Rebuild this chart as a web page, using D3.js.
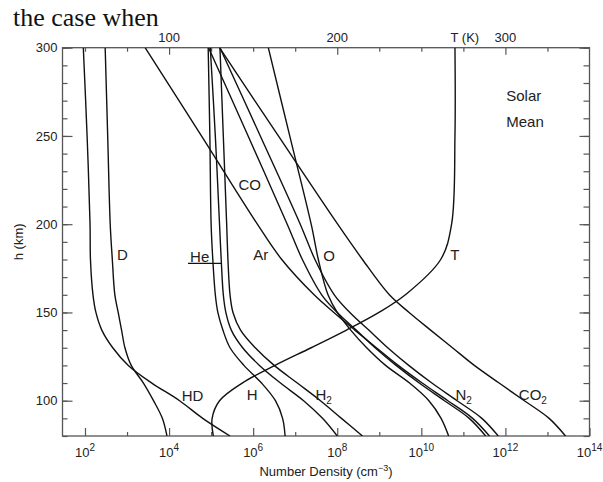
<!DOCTYPE html>
<html lang="en">
<head>
<meta charset="UTF-8">
<title>Mars thermosphere densities</title>
<style>
  body { margin: 0; background: #fff; }
  svg text { font-family: "Liberation Sans", Arial, sans-serif; fill: #222; }
  .ax line { stroke: #555; stroke-width: 1.2; }
  .ax path { display: none; }
</style>
</head>
<body>
<div id="chart"></div>
<script src="https://d3js.org/d3.v7.min.js"></script>
<script>
// altitudes (km) shared by every profile
var heights = [80, 90, 100, 110, 120, 130, 140, 150, 160, 180, 200, 250, 300];

// log10 number density (cm^-3) at each altitude
var co2 = [13.43, 13.04, 12.45, 11.85, 11.26, 10.74, 10.22, 9.71, 9.24, 8.6, 8.01, 6.6, 5.2];
var n2  = [11.83, 11.44, 10.85, 10.25, 9.7, 9.2, 8.75, 8.3, 7.93, 7.47, 7.12, 6.17, 5.21];
var co  = [11.53, 11.14, 10.55, 9.95, 9.4, 8.9, 8.45, 8.0, 7.63, 7.17, 6.81, 5.88, 4.94];
var ar  = [11.62, 11.22, 10.63, 10.02, 9.45, 8.93, 8.42, 7.92, 7.45, 6.68, 6.1, 4.77, 3.43];
var o   = [10.65, 10.47, 10.18, 9.72, 9.15, 8.7, 8.32, 8.0, 7.78, 7.55, 7.38, 6.87, 6.36];
var he  = [8.0, 7.65, 7.2, 6.65, 6.15, 5.75, 5.48, 5.35, 5.29, 5.24, 5.2, 5.1, 4.98];
var h2  = [8.6, 8.1, 7.6, 7.05, 6.5, 6.05, 5.7, 5.52, 5.45, 5.4, 5.37, 5.29, 5.21];
var hAtom = [6.76, 6.7, 6.53, 6.2, 5.78, 5.45, 5.28, 5.16, 5.1, 5.04, 5.0, 4.97, 4.93];
var hd  = [5.45, 4.8, 4.25, 3.59, 3.03, 2.66, 2.4, 2.26, 2.19, 2.13, 2.12, 2.05, 1.96];
var dAtom = [3.95, 3.84, 3.63, 3.39, 3.1, 2.95, 2.87, 2.79, 2.71, 2.65, 2.6, 2.54, 2.48];

// temperature (K)
var temp = [126.3, 125.6, 130, 143.5, 163, 184.5, 205.5, 224.8, 240.5, 261.5, 268, 270, 270];

// axis ticks
var xMajorExp = [2, 4, 6, 8, 10, 12, 14];
var xMinorExp = [3, 5, 7, 9, 11, 13];
var yMajor = [100, 150, 200, 250, 300];
var yMinor = d3.range(80, 301, 10);
var tMajor = [100, 200, 300];
var tMinor = [50, 75, 125, 150, 175, 225, 250, 275, 325];

// curve labels: text, subscript, log10 n, altitude
var labels = [
    ["D", "", 2.76, 179.7],
    ["HD", "", 4.3, 100],
    ["He", "", 4.5, 178.6],
    ["Ar", "", 6.0, 179.7],
    ["CO", "", 5.65, 219.4],
    ["O", "", 7.67, 179.4],
    ["T", "", 10.69, 179.7],
    ["H", "", 5.85, 100.4],
    ["H", "2", 7.48, 100.4],
    ["N", "2", 10.81, 100.4],
    ["CO", "2", 12.32, 100.4]
];

var W = 603, H = 482;
var pL = 62.5, pR = 589.5, pT = 47.7, pB = 436;

var svg = d3.select("#chart").append("svg")
    .attr("width", W)
    .attr("height", H);

var x = d3.scaleLog().domain([Math.pow(10, 1.465), 1e14]).range([pL, pR]);
var y = d3.scaleLinear().domain([80, 300]).range([pB, pT]);
// temperature axis: 100 K per four decades
var t = d3.scaleLinear().domain([25 * 1.465, 350]).range([pL, pR]);

// caption text cut off above the figure
svg.append("text")
    .attr("x", 13)
    .attr("y", 26)
    .style("font-family", "'Liberation Serif', 'Times New Roman', serif")
    .style("font-size", "26px")
    .style("fill", "#111")
    .text("the case when");

// bottom axis
var gx = svg.append("g").attr("class", "ax").attr("transform", "translate(0," + pB + ")");
gx.call(d3.axisBottom(x).tickValues(xMajorExp.map(function (e) { return Math.pow(10, e); }))
    .tickSizeInner(-8).tickSizeOuter(0).tickFormat(""));
gx.append("g").call(d3.axisBottom(x).tickValues(xMinorExp.map(function (e) { return Math.pow(10, e); }))
    .tickSizeInner(-4).tickSizeOuter(0).tickFormat(""));
xMajorExp.forEach(function (e) {
    var lab = gx.append("text")
        .attr("x", x(Math.pow(10, e)))
        .attr("y", 21)
        .attr("text-anchor", "middle")
        .style("font-size", "13px");
    lab.append("tspan").text("10");
    lab.append("tspan").attr("dy", -6).style("font-size", "10px").text(e);
});

// top axis (temperature)
var gt = svg.append("g").attr("class", "ax").attr("transform", "translate(0," + pT + ")");
gt.call(d3.axisTop(t).tickValues(tMajor).tickSizeInner(-7).tickSizeOuter(0).tickFormat(""));
gt.append("g").call(d3.axisTop(t).tickValues(tMinor).tickSizeInner(-4).tickSizeOuter(0).tickFormat(""));
tMajor.forEach(function (v) {
    gt.append("text")
        .attr("x", t(v))
        .attr("y", -6)
        .attr("text-anchor", "middle")
        .style("font-size", "13px")
        .text(v);
});
gt.append("text")
    .attr("x", t(275) + 1.5)
    .attr("y", -6)
    .attr("text-anchor", "middle")
    .style("font-size", "13px")
    .text("T (K)");

// left and right axes
var gy = svg.append("g").attr("class", "ax").attr("transform", "translate(" + pL + ",0)");
gy.call(d3.axisLeft(y).tickValues(yMajor).tickSizeInner(-10).tickSizeOuter(0).tickPadding(5)
    .tickFormat(d3.format("d")));
gy.append("g").call(d3.axisLeft(y).tickValues(yMinor).tickSizeInner(-5).tickSizeOuter(0).tickFormat(""));
gy.selectAll("text").style("font-size", "13px").style("fill", "#222").style("font-family", "'Liberation Sans', Arial, sans-serif");

var gr = svg.append("g").attr("class", "ax").attr("transform", "translate(" + pR + ",0)");
gr.call(d3.axisRight(y).tickValues(yMajor).tickSizeInner(-10).tickSizeOuter(0).tickFormat(""));
gr.append("g").call(d3.axisRight(y).tickValues(yMinor).tickSizeInner(-6).tickSizeOuter(0).tickFormat(""));

// frame
svg.append("rect")
    .attr("x", pL).attr("y", pT)
    .attr("width", pR - pL).attr("height", pB - pT)
    .style("fill", "none").style("stroke", "#555").style("stroke-width", 1.3);

// axis titles
var xt = svg.append("text")
    .attr("x", 326)
    .attr("y", 476)
    .attr("text-anchor", "middle")
    .style("font-size", "13px");
xt.append("tspan").text("Number Density (cm");
xt.append("tspan").attr("dy", -5).style("font-size", "9px").text("\u22123");
xt.append("tspan").attr("dy", 5).text(")");

svg.append("text")
    .attr("transform", "translate(23," + ((pT + pB) / 2) + ") rotate(-90)")
    .attr("text-anchor", "middle")
    .style("font-size", "13px")
    .text("h (km)");

// profiles
svg.append("clipPath").attr("id", "clip")
    .append("rect").attr("x", pL).attr("y", pT).attr("width", pR - pL).attr("height", pB - pT);

var line = d3.line()
    .x(function (d) { return x(Math.pow(10, d[1])); })
    .y(function (d) { return y(d[0]); })
    .curve(d3.curveCatmullRom.alpha(0.5));

var series = [co2, n2, co, ar, o, he, h2, hAtom, hd, dAtom];
var plot = svg.append("g").attr("clip-path", "url(#clip)");

series.forEach(function (s) {
    plot.append("path")
        .attr("d", line(d3.zip(heights, s)))
        .style("fill", "none")
        .style("stroke", "#111")
        .style("stroke-width", 1.4);
});

var tLine = d3.line()
    .x(function (d) { return t(d[1]); })
    .y(function (d) { return y(d[0]); })
    .curve(d3.curveCatmullRom.alpha(0.5));

plot.append("path")
    .attr("d", tLine(d3.zip(heights, temp)))
    .style("fill", "none")
    .style("stroke", "#111")
    .style("stroke-width", 1.4);

// labels
labels.forEach(function (l) {
    var tx = svg.append("text")
        .attr("x", x(Math.pow(10, l[2])))
        .attr("y", y(l[3]))
        .style("font-size", "15px");
    tx.append("tspan").text(l[0]);
    if (l[1]) {
        tx.append("tspan").attr("dy", 4).style("font-size", "10px").text(l[1]);
    }
});

// He leader line
var heAt = d3.scaleLinear().domain(heights).range(he);
svg.append("line")
    .attr("x1", x(Math.pow(10, 4.45)))
    .attr("x2", x(Math.pow(10, heAt(177.8))))
    .attr("y1", y(177.8))
    .attr("y2", y(177.8))
    .style("stroke", "#111")
    .style("stroke-width", 1.3);

// Solar Mean
svg.append("text").attr("x", x(Math.pow(10, 12.02))).attr("y", y(269.6)).style("font-size", "15px").text("Solar");
svg.append("text").attr("x", x(Math.pow(10, 12.02))).attr("y", y(255.1)).style("font-size", "15px").text("Mean");
</script>
</body>
</html>
